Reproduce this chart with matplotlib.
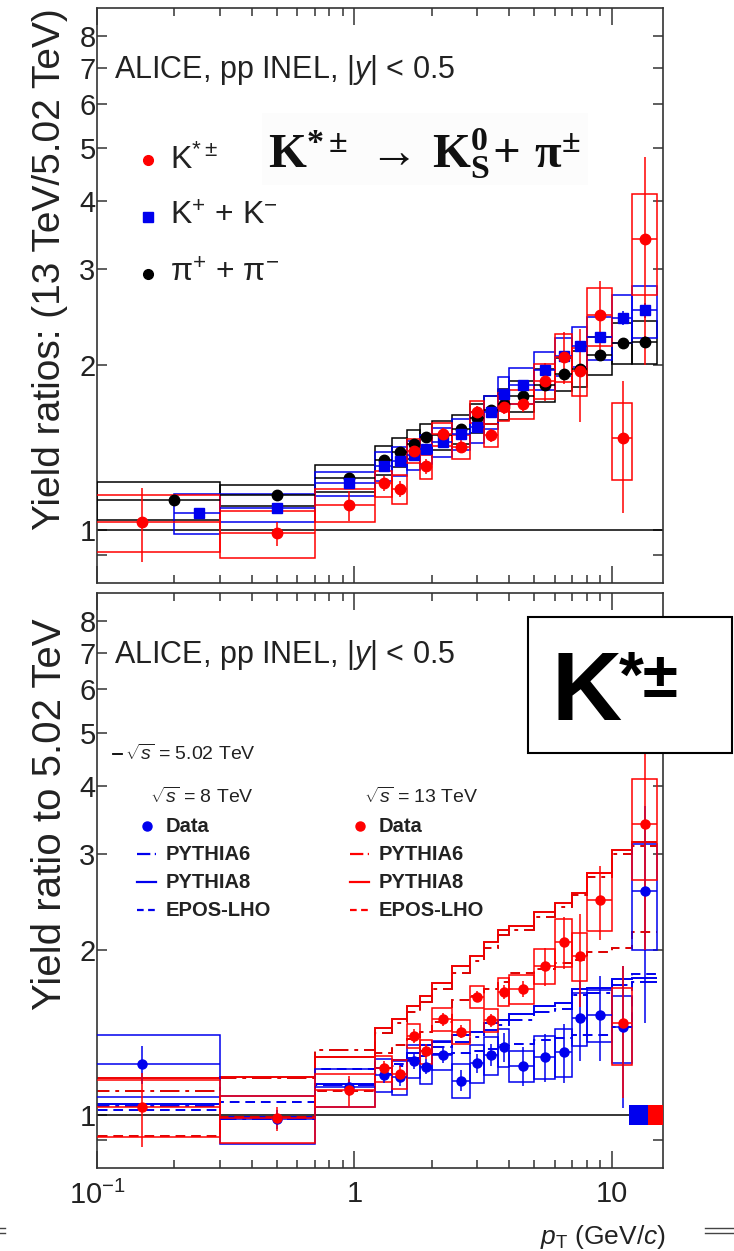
import numpy as np
import matplotlib
matplotlib.use('Agg')
import matplotlib.pyplot as plt
from matplotlib.patches import Rectangle
from matplotlib.lines import Line2D
from matplotlib.ticker import FixedLocator, FixedFormatter, NullFormatter, LogLocator

plt.rcParams['font.family'] = ['Liberation Sans', 'DejaVu Sans']
plt.rcParams['mathtext.fontset'] = 'custom'
plt.rcParams['mathtext.rm'] = 'Liberation Sans'
plt.rcParams['mathtext.it'] = 'Liberation Sans:italic'
plt.rcParams['mathtext.bf'] = 'Liberation Serif:bold'

W, H = 734, 1251

# pT binning of the K*(892)+- measurement (first bin starts at 0)
kstar_lo = [0.0, 0.3, 0.7, 1.2, 1.4, 1.6, 1.8, 2.0, 2.4, 2.8, 3.2, 3.6, 4.0, 5.0, 6.0, 7.0, 8.0, 10.0, 12.0]
kstar_hi = [0.3, 0.7, 1.2, 1.4, 1.6, 1.8, 2.0, 2.4, 2.8, 3.2, 3.6, 4.0, 5.0, 6.0, 7.0, 8.0, 10.0, 12.0, 15.0]
kstar_pt = [0.15, 0.5, 0.95, 1.3, 1.5, 1.7, 1.9, 2.2, 2.6, 3.0, 3.4, 3.8, 4.5, 5.5, 6.5, 7.5, 9.0, 11.0, 13.5]

# K*+- 13 TeV / 5.02 TeV
kstar_13 = [1.035, 0.986, 1.11, 1.217, 1.188, 1.395, 1.307, 1.496, 1.42, 1.646, 1.49, 1.68, 1.70,
            1.873, 2.075, 1.953, 2.47, 1.472, 3.40]
kstar_13_stat = [0.16, 0.05, 0.07, 0.04, 0.04, 0.04, 0.04, 0.04, 0.04, 0.04, 0.04, 0.05, 0.06,
                 0.15, 0.23, 0.38, 0.38, 0.40, 1.40]
kstar_13_sys = [0.12, 0.10, 0.07, 0.055, 0.06, 0.05, 0.05, 0.05, 0.05, 0.045, 0.05, 0.06, 0.06,
                0.075, 0.10, 0.10, 0.12, 0.16, 0.21]

# K*+- 8 TeV / 5.02 TeV
kstar_8 = [1.238, 0.983, 1.123, 1.184, 1.171, 1.255, 1.226, 1.287, 1.156, 1.243, 1.287, 1.332, 1.231,
           1.278, 1.305, 1.504, 1.525, 1.449, 2.57]
kstar_8_stat = [0.10, 0.04, 0.04, 0.04, 0.04, 0.04, 0.04, 0.04, 0.05, 0.05, 0.06, 0.08, 0.10,
                0.13, 0.16, 0.25, 0.27, 0.42, 1.10]
kstar_8_sys = [0.13, 0.10, 0.08, 0.07, 0.07, 0.07, 0.07, 0.06, 0.07, 0.08, 0.08, 0.08, 0.065,
               0.09, 0.10, 0.11, 0.11, 0.14, 0.22]

# charged pions 13 / 5.02
pion_lo = [0.1, 0.3, 0.7, 1.2, 1.4, 1.6, 1.8, 2.0, 2.4, 2.8, 3.2, 3.6, 4.0, 5.0, 6.0, 7.0, 8.0, 10.0, 12.0]
pion_pt = [0.2, 0.5, 0.95, 1.3, 1.5, 1.7, 1.9, 2.2, 2.6, 3.0, 3.4, 3.8, 4.5, 5.5, 6.5, 7.5, 9.0, 11.0, 13.5]
pion_13 = [1.134, 1.158, 1.244, 1.342, 1.389, 1.435, 1.476, 1.49, 1.53, 1.60, 1.66, 1.70, 1.758,
           1.84, 1.93, 1.973, 2.085, 2.20, 2.21]
pion_13_stat = [0.01, 0.01, 0.01, 0.01, 0.01, 0.01, 0.01, 0.01, 0.01, 0.01, 0.01, 0.01, 0.01,
                0.01, 0.02, 0.02, 0.03, 0.04, 0.05]
pion_13_sys = [0.08, 0.045, 0.055, 0.06, 0.06, 0.06, 0.06, 0.06, 0.06, 0.06, 0.06, 0.065, 0.065,
               0.07, 0.07, 0.075, 0.08, 0.085, 0.09]

# charged kaons 13 / 5.02
kaon_lo = [0.2, 0.3, 0.7, 1.2, 1.4, 1.6, 1.8, 2.0, 2.4, 2.8, 3.2, 3.6, 4.0, 5.0, 6.0, 7.0, 8.0, 10.0, 12.0]
kaon_pt = [0.25, 0.5, 0.95, 1.3, 1.5, 1.7, 1.9, 2.2, 2.6, 3.0, 3.4, 3.8, 4.5, 5.5, 6.5, 7.5, 9.0, 11.0, 13.5]
kaon_13 = [1.073, 1.098, 1.217, 1.31, 1.338, 1.37, 1.405, 1.449, 1.50, 1.54, 1.646, 1.776, 1.84,
           1.96, 2.08, 2.17, 2.25, 2.44, 2.52]
kaon_13_stat = [0.01, 0.01, 0.01, 0.01, 0.01, 0.01, 0.01, 0.01, 0.01, 0.01, 0.02, 0.02, 0.02,
                0.02, 0.03, 0.04, 0.05, 0.07, 0.08]
kaon_13_sys = [0.085, 0.06, 0.05, 0.06, 0.06, 0.06, 0.06, 0.06, 0.065, 0.065, 0.07, 0.07, 0.075,
               0.08, 0.08, 0.085, 0.09, 0.10, 0.11]

# model predictions (same binning as K*)
pythia8_13 = [1.167, 1.174, 1.274, 1.44, 1.50, 1.58, 1.65, 1.74, 1.87, 1.95, 2.07, 2.18, 2.22,
              2.35, 2.44, 2.55, 2.77, 3.05, 3.16]
pythia6_13 = [1.107, 1.17, 1.314, 1.41, 1.47, 1.54, 1.61, 1.70, 1.82, 1.91, 2.02, 2.13, 2.18,
              2.30, 2.40, 2.52, 2.72, 3.00, 3.10]
epos_13 = [0.915, 0.99, 1.107, 1.30, 1.34, 1.375, 1.42, 1.48, 1.62, 1.65, 1.70, 1.75, 1.82,
           1.85, 1.90, 1.92, 1.99, 2.02, 2.16]
pythia8_8 = [1.047, 0.99, 1.14, 1.22, 1.26, 1.30, 1.34, 1.36, 1.40, 1.42, 1.47, 1.49, 1.53,
             1.58, 1.60, 1.70, 1.71, 1.77, 1.78]
pythia6_8 = [1.04, 0.985, 1.135, 1.19, 1.23, 1.27, 1.31, 1.33, 1.36, 1.39, 1.43, 1.46, 1.49,
             1.54, 1.56, 1.66, 1.67, 1.73, 1.75]
epos_8 = [1.022, 1.056, 1.213, 1.22, 1.24, 1.26, 1.28, 1.29, 1.30, 1.31, 1.32, 1.34, 1.35,
          1.37, 1.38, 1.40, 1.40, 1.45, 1.81]

# normalisation uncertainties (8 TeV, 13 TeV)
norm_unc = [0.043, 0.043]

RED = '#ff0000'
BLUE = '#0000ee'
FRAME = '#333333'
TXT = '#222222'


def fig_xy(x, y):
    """pixel position in the picture -> figure fraction"""
    return x / W, 1 - y / H


def draw_series(ax, lo, hi, pt, val, stat, sys, color, marker, ms):
    lo = np.clip(lo, 0.05, None)
    hi = np.array(hi)
    val = np.array(val)
    for l, h, v, s in zip(lo, hi, val, sys):
        ax.add_patch(Rectangle((l, v * (1 - s)), h - l, 2 * v * s, fill=False,
                               ec=color, lw=1.1, zorder=3))
    xerr = [np.array(pt) - lo, hi - np.array(pt)]
    ax.errorbar(pt, val, yerr=stat, xerr=xerr, fmt=marker, color=color, ms=ms,
                lw=1.1, capsize=0, zorder=4)


def style_axes(ax, show_xlabels):
    ax.set_xscale('log')
    ax.set_yscale('log')
    ax.set_xlim(0.1, 15.8)
    ax.set_ylim(0.8, 9.0)
    ax.yaxis.set_major_locator(FixedLocator([1, 2, 3, 4, 5, 6, 7, 8]))
    ax.yaxis.set_major_formatter(FixedFormatter(['1', '2', '3', '4', '5', '6', '7', '8']))
    ax.yaxis.set_minor_locator(FixedLocator([0.9]))
    ax.yaxis.set_minor_formatter(NullFormatter())
    ax.xaxis.set_major_locator(FixedLocator([0.1, 1, 10]))
    ax.xaxis.set_minor_locator(LogLocator(base=10, subs=np.arange(2, 10)))
    ax.xaxis.set_minor_formatter(NullFormatter())
    if show_xlabels:
        ax.xaxis.set_major_formatter(FixedFormatter([r'$10^{-1}$', '1', '10']))
    else:
        ax.xaxis.set_major_formatter(NullFormatter())
    ax.tick_params(axis='both', which='both', direction='in', top=True, right=True,
                   color=FRAME, width=1.1, labelsize=21, labelcolor=TXT)
    ax.tick_params(axis='x', which='major', length=12, pad=9)
    ax.tick_params(axis='x', which='minor', length=6)
    ax.tick_params(axis='y', which='both', length=7, pad=1)
    for sp in ax.spines.values():
        sp.set_color(FRAME)
        sp.set_linewidth(1.2)
    ax.axhline(1, color='k', lw=1.1, zorder=2)


def fig_marker(fig, x, y, marker, color, ms):
    fx, fy = fig_xy(x, y)
    fig.add_artist(Line2D([fx], [fy], marker=marker, color=color, ms=ms, ls='none',
                          transform=fig.transFigure))


def fig_segment(fig, x0, x1, y, color, ls, lw=1.3):
    a = fig_xy(x0, y)
    b = fig_xy(x1, y)
    fig.add_artist(Line2D([a[0], b[0]], [a[1], b[1]], color=color, ls=ls, lw=lw,
                          transform=fig.transFigure))


def fig_text(fig, x, y, s, **kw):
    fx, fy = fig_xy(x, y)
    fig.text(fx, fy, s, **kw)


fig = plt.figure(figsize=(W / 100, H / 100), dpi=100)
ax1 = fig.add_axes([97 / W, 1 - 583 / H, (663 - 97) / W, (583 - 8) / H])
ax2 = fig.add_axes([97 / W, 1 - 1168 / H, (663 - 97) / W, (1168 - 593) / H])

# ---- top panel: 13 / 5.02 for three species
style_axes(ax1, False)
draw_series(ax1, pion_lo, kstar_hi, pion_pt, pion_13, pion_13_stat, pion_13_sys, 'k', 'o', 7.5)
draw_series(ax1, kaon_lo, kstar_hi, kaon_pt, kaon_13, kaon_13_stat, kaon_13_sys, BLUE, 's', 7)
draw_series(ax1, kstar_lo, kstar_hi, kstar_pt, kstar_13, kstar_13_stat, kstar_13_sys, RED, 'o', 7.5)

fig_text(fig, 114, 70, r'ALICE, pp INEL, |$y$| < 0.5', fontsize=22, va='center', color=TXT)
fig_marker(fig, 148, 160, 'o', RED, 7)
fig_marker(fig, 148, 217, 's', BLUE, 7)
fig_marker(fig, 148, 274, 'o', 'k', 7)
fig_text(fig, 170, 160, r'K$^{*\pm}$', fontsize=23, va='center', color=TXT)
fig_text(fig, 170, 217, r'K$^{+}$ + K$^{-}$', fontsize=23, va='center', color=TXT)
fig_text(fig, 170, 274, r'$\mathrm{\pi}^{+}$ + $\mathrm{\pi}^{-}$', fontsize=23, va='center', color=TXT)

fx, fy = fig_xy(262, 185)
fig.add_artist(Rectangle((fx, fy), 326 / W, 72 / H, transform=fig.transFigure,
                         fc='#fcfcfc', ec='none', zorder=2))
fig_text(fig, 268, 168, r'$\mathbf{K^{*\pm}\,\rightarrow\, K^{0}_{S}\!+\,\pi^{\pm}}$', fontsize=35,
         va='baseline', color='#111111', zorder=3)

fig_text(fig, 50, 530, 'Yield ratios: (13 TeV/5.02 TeV)', fontsize=28, rotation=90,
         rotation_mode='anchor', ha='left', va='center', color=TXT)

# ---- bottom panel: ratio to 5.02 TeV with models
style_axes(ax2, True)
edges = np.clip(kstar_lo + [kstar_hi[-1]], 0.05, None)
for vals, color, ls in [(epos_8, BLUE, (0, (5, 3))), (pythia6_8, BLUE, (0, (10, 3, 2, 3))),
                        (pythia8_8, BLUE, '-'), (epos_13, '#dd0000', (0, (5, 3))),
                        (pythia6_13, '#dd0000', (0, (10, 3, 2, 3))), (pythia8_13, '#ee0000', '-')]:
    ax2.stairs(vals, edges, baseline=None, color=color, ls=ls, lw=1.4, zorder=2)
draw_series(ax2, kstar_lo, kstar_hi, kstar_pt, kstar_8, kstar_8_stat, kstar_8_sys, BLUE, 'o', 6.5)
draw_series(ax2, kstar_lo, kstar_hi, kstar_pt, kstar_13, kstar_13_stat, kstar_13_sys, RED, 'o', 6.5)

# normalisation boxes at the right edge
for (x0, x1), u, c in zip([(0.940, 0.9735), (0.9735, 1.0)], norm_unc, [BLUE, RED]):
    ax2.add_patch(Rectangle((x0, 1 - u), x1 - x0, 2 * u, fc=c, ec='none', zorder=5,
                            transform=ax2.get_yaxis_transform()))

ax2.set_xlabel(r'$p_{\mathrm{T}}$ (GeV/$c$)', fontsize=19, color=TXT)
ax2.xaxis.set_label_coords(1.005, -0.095)
ax2.xaxis.label.set_ha('right')

fig_text(fig, 114, 655, r'ALICE, pp INEL, |$y$| < 0.5', fontsize=22, va='center', color=TXT)
fig_text(fig, 50, 1010, 'Yield ratio to 5.02 TeV', fontsize=29, rotation=90,
         rotation_mode='anchor', ha='left', va='center', color=TXT)

# legend
fig_segment(fig, 113, 122, 754, 'k', '-')
fig_text(fig, 125, 754, r'$\sqrt{s}$ = 5.02 TeV', fontsize=14, va='center', color=TXT)
fig_text(fig, 150, 797, r'$\sqrt{s}$ = 8 TeV', fontsize=14, va='center', color=TXT)
fig_text(fig, 364, 797, r'$\sqrt{s}$ = 13 TeV', fontsize=14, va='center', color=TXT)
rows = [('Data', None), ('PYTHIA6', (0, (6, 2, 1.5, 2))), ('PYTHIA8', '-'), ('EPOS-LHO', (0, (3, 2)))]
for i, (name, ls) in enumerate(rows):
    y = 826 + 28 * i
    for x0, c in [(137, BLUE), (350, RED)]:
        if ls is None:
            fig_marker(fig, x0 + 10, y, 'o', c, 6.5)
        else:
            fig_segment(fig, x0, x0 + 19, y, c, ls, lw=1.6)
        fig_text(fig, x0 + 29, y, name, fontsize=14.5, va='center', color=TXT,
                 fontweight='semibold')

# species tag
fx, fy = fig_xy(528, 753)
fig.add_artist(Rectangle((fx, fy), 204 / W, 136 / H, transform=fig.transFigure,
                         fc='white', ec='k', lw=1.5, zorder=5))
fig_text(fig, 551, 720, 'K', fontsize=70, fontweight='bold', va='baseline', zorder=6)
fig_text(fig, 619, 650, '*±', fontsize=46, fontweight='bold', va='top', zorder=6)

# page artefacts at the bottom
for y in (1228, 1233):
    fig_segment(fig, 0, 5, y, '#444444', '-', lw=1.0)
    fig_segment(fig, 705, 734, y, '#444444', '-', lw=1.0)

fig.savefig('out.png', dpi=100)
